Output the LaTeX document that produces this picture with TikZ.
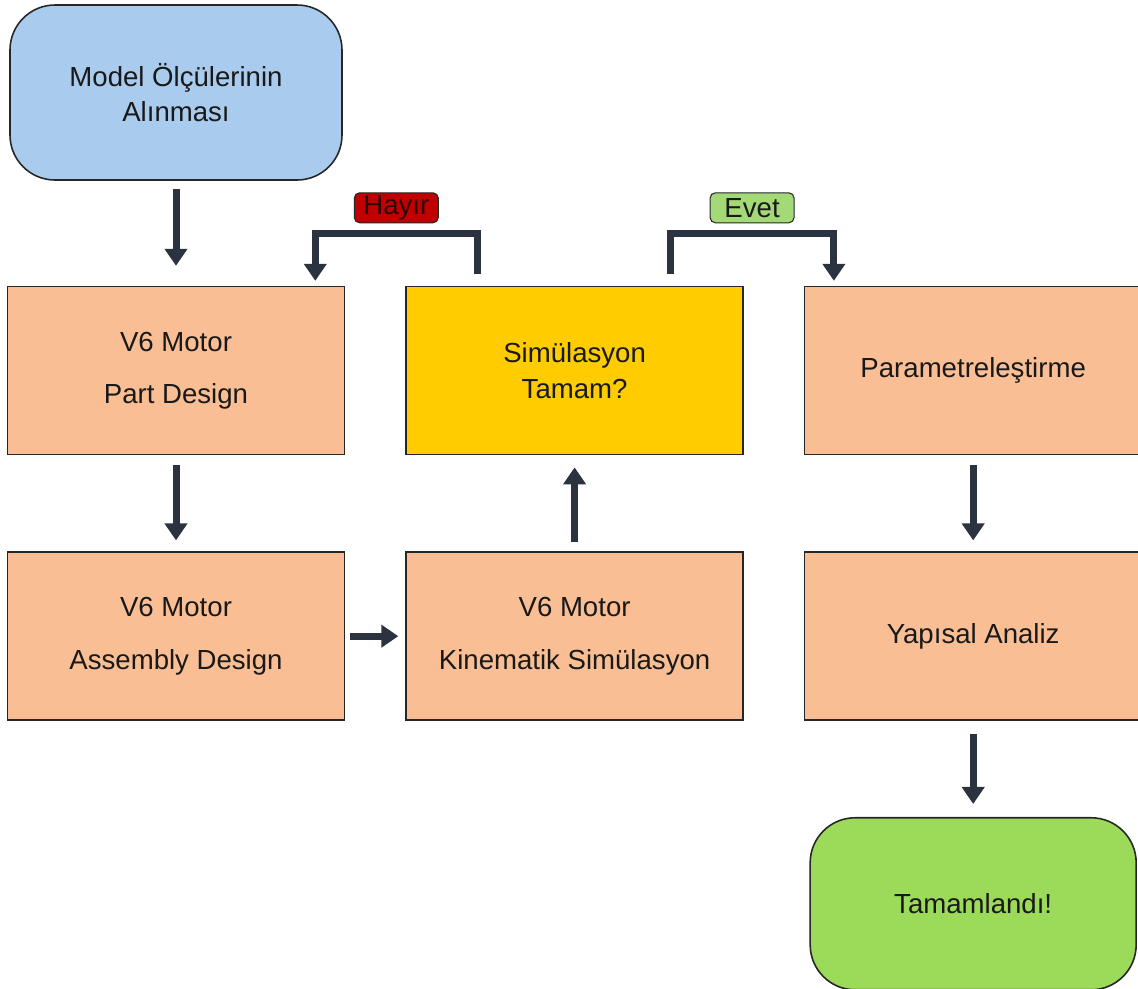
\documentclass[tikz,border=0pt]{standalone}
\usepackage{fontspec}
\setmainfont{Liberation Sans}
\usetikzlibrary{positioning}
\usetikzlibrary{arrows.meta}

\definecolor{sky}{HTML}{A9CCEE}
\definecolor{peach}{HTML}{F9BE94}
\definecolor{gold}{HTML}{FFCC00}
\definecolor{lime}{HTML}{9CDA5A}
\definecolor{ink}{HTML}{2B3340}
\definecolor{nored}{HTML}{C00000}
\definecolor{yesgreen}{HTML}{A3D977}

\begin{document}
\begin{tikzpicture}
  [every node/.style = {draw=black!85, line width=0.9pt, align=center, text=black!90,
                        font=\fontsize{15.7}{20}\selectfont},
   box/.style = {rectangle, fill=peach, minimum width=6.74cm, minimum height=3.36cm},
   endbox/.style = {rounded corners=0.9cm, minimum height=3.5cm},
   tag/.style = {rounded corners=3pt, minimum width=1.68cm, minimum height=0.6cm,
                 inner sep=1pt, line width=0.6pt},
   arr/.style = {ink, line width=0.14cm, -{Triangle[width=0.44cm, length=0.34cm]}}]
  \useasboundingbox (0,0) rectangle (22.76,-19.76);

  \node (m) [endbox, fill=sky, minimum width=6.64cm] at (3.52,-1.85) {Model Ölçülerinin\\Alınması};
  \node (p) [box, below=2.1cm of m] {V6 Motor\\[10pt]Part Design};
  \node (a) [box, below=1.92cm of p] {V6 Motor\\[10pt]Assembly Design};
  \node (s) [box, fill=gold, right=1.2cm of p] {Simülasyon\\Tamam?};
  \node (k) [box, right=1.2cm of a] {V6 Motor\\[10pt]Kinematik Simülasyon};
  \node (r) [box, right=1.2cm of s] {Parametreleştirme};
  \node (y) [box, right=1.2cm of k] {Yapısal Analiz};
  \node (t) [endbox, fill=lime, minimum width=6.52cm, minimum height=3.44cm,
             below=1.92cm of y] {Tamamlandı!};

  \draw [arr, shorten <=0.16cm, shorten >=0.4cm] (m) -- (p);
  \draw [arr, shorten <=0.2cm, shorten >=0.22cm] (p) -- (a);
  \draw [arr, shorten <=0.1cm, shorten >=0.14cm] (a) -- (k);
  \draw [arr, shorten <=0.18cm, shorten >=0.24cm] (k) -- (s);
  \draw [arr, shorten <=0.2cm, shorten >=0.22cm] (r) -- (y);
  \draw [arr, shorten <=0.26cm, shorten >=0.26cm] (y) -- (t);

  \draw [arr] ([shift={(1.44,0.24)}]s.north west) -- ++(0,0.8)
    -| node [tag, fill=nored, text=black!75!nored, pos=0.25, yshift=0.52cm] {Hayır}
    ([shift={(-0.6,0.1)}]p.north east);
  \draw [arr] ([shift={(5.3,0.24)}]s.north west) -- ++(0,0.8)
    -| node [tag, fill=yesgreen, pos=0.25, yshift=0.52cm] {Evet}
    ([shift={(0.6,0.1)}]r.north west);
\end{tikzpicture}
\end{document}
